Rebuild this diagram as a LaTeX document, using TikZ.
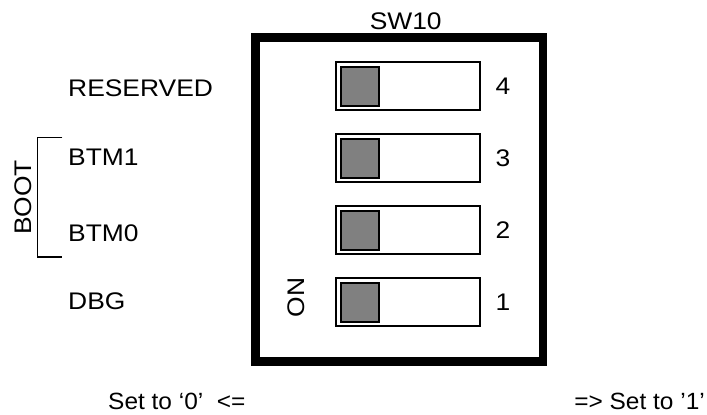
\documentclass[tikz,border=0pt]{standalone}
\usepackage{fontspec}
\setmainfont{Liberation Sans}[FakeStretch=1.1]
\newfontfamily\legendfont{Liberation Sans}[FakeStretch=1.04]
\begin{document}
\begin{tikzpicture}[x=1pt,y=-1pt,
  lbl/.style={font=\fontsize{24}{28}\selectfont, inner sep=0pt},
  legend/.style={font=\legendfont\fontsize{23.5}{28}\selectfont, inner sep=0pt},
  swbody/.style={draw=black, line width=1.5pt, fill=white, minimum width=144pt, minimum height=48pt, inner sep=0pt},
  knob/.style={draw=black, line width=2pt, fill=gray, minimum width=38pt, minimum height=39pt, inner sep=0pt},
  frame/.style={draw=black, line width=8.5pt},
  bracket/.style={draw=black, line width=1.5pt}]
\useasboundingbox (0,0) rectangle (707,415);

% switch housing
\draw[frame] (255.5,37.5) rectangle (543,361.5);
\node[lbl] (title) at (405.7,21.5) {SW10};

% the four slide switches, knobs on the left (ON side)
\foreach \n/\yy in {4/86,3/158,2/230,1/302}{
  \node[swbody] (sw\n) at (408,\yy) {};
  \node[knob, anchor=west] (knob\n) at ([xshift=5pt]sw\n.west) {};
  \node[lbl] (num\n) at (503,\yy) {\n};
}
\node[lbl, rotate=90] (on) at (296.7,297.5) {ON};

% signal names
\node[lbl, anchor=west] (res) at (68,88) {RESERVED};
\node[lbl, anchor=west] (btm1) at (68,157) {BTM1};
\node[lbl, anchor=west] (btm0) at (68,233.5) {BTM0};
\node[lbl, anchor=west] (dbg) at (68,301) {DBG};

% BOOT bracket
\coordinate (bt) at (62.3,137.3);
\coordinate (bb) at (62.3,257);
\draw[bracket] (bt) -- ++(-24.6,0) |- (bb);
\node[lbl, rotate=90] (boot) at (23.3,197.5) {BOOT};

% legend
\node[legend, anchor=west] (set0) at (108,401) {Set to ‘0’\ \ <=};
\node[legend, anchor=east] (set1) at (705,401) {=> Set to ’1’};
\end{tikzpicture}
\end{document}
